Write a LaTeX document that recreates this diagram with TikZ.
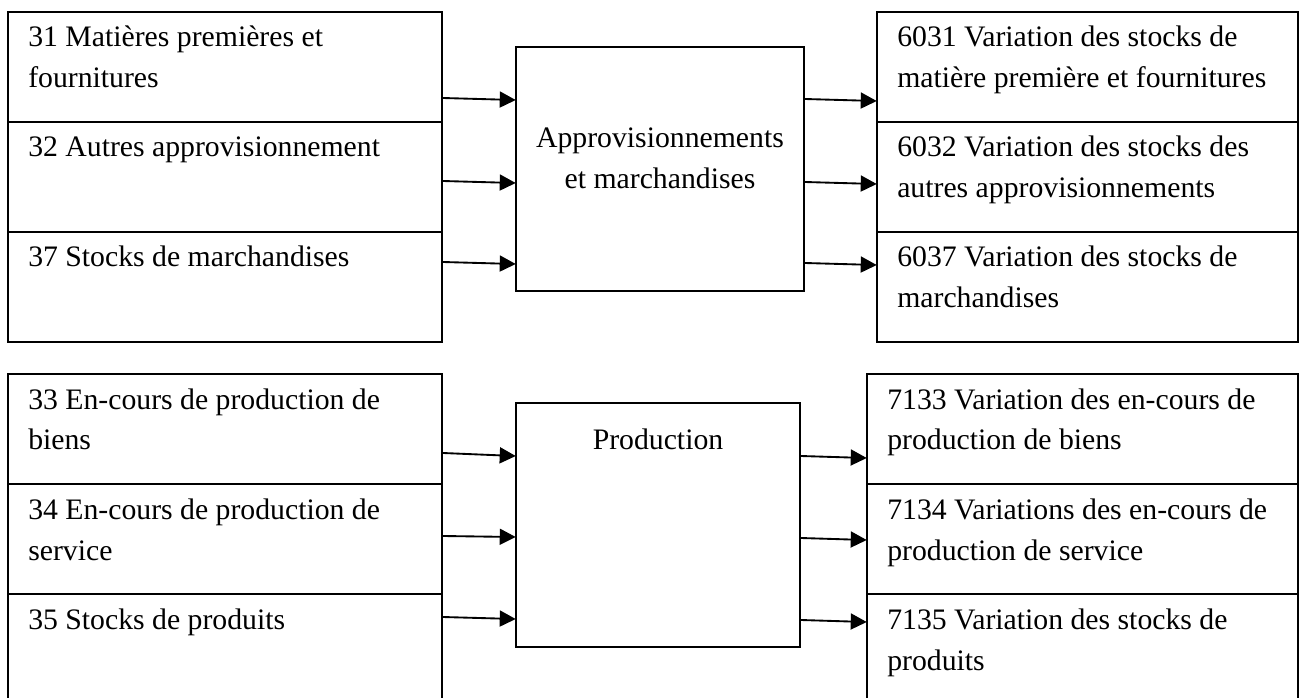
\documentclass[tikz,border=0pt]{standalone}
\usepackage{fontspec}
\setmainfont{Liberation Serif}
\usetikzlibrary{fit,arrows.meta}
\tikzset{
  box/.style={draw=black, line width=1.4pt, inner sep=0pt, fill=none},
  lbl/.style={anchor=base west, inner sep=0pt, align=left, font=\fontsize{22.3pt}{30.75pt}\selectfont},
  ctr/.style={anchor=base, inner sep=0pt, align=center, font=\fontsize{22.3pt}{30.75pt}\selectfont},
  arr/.style={draw=black, line width=1.4pt, -{Triangle[length=12pt,width=12pt]}, shorten >=-0.5pt}
}
\begin{document}
\begin{tikzpicture}[x=0.75pt,y=-0.75pt]
\useasboundingbox (0,0) rectangle (1299,698);
\clip (0,0) rectangle (1299,698);
\fill[white] (0,0) rectangle (1299,698);
% ---- top section ----
\node[box, fit={(8,12)(442,122)}] (L1) {};
\node[box, fit={(8,122)(442,232)}] (L2) {};
\node[box, fit={(8,232)(442,342)}] (L3) {};
\node[box, fit={(516,47)(804,291)}] (M1) {};
\node[box, fit={(877,12)(1298,122)}] (R1) {};
\node[box, fit={(877,122)(1298,232)}] (R2) {};
\node[box, fit={(877,232)(1298,342)}] (R3) {};
\node[lbl] (tL1) at (28,88) {31 Matières premières et\\fournitures};
\node[lbl] (tL2) at (28,157) {32 Autres approvisionnement};
\node[lbl] (tL3) at (28,267) {37 Stocks de marchandises};
\node[ctr] (tM1) at (660,189) {Approvisionnements\\et marchandises};
\node[lbl] (tR1) at (897,88) {6031 Variation des stocks de\\matière première et fournitures};
\node[lbl] (tR2) at (897,198) {6032 Variation des stocks des\\autres approvisionnements};
\node[lbl] (tR3) at (897,308) {6037 Variation des stocks de\\marchandises};
\draw[arr] (L1.east |- 0,98) -- (M1.west |- 0,100);
\draw[arr] (L2.east |- 0,181) -- (M1.west |- 0,183);
\draw[arr] (L3.east |- 0,262) -- (M1.west |- 0,264);
\draw[arr] (M1.east |- 0,99) -- (R1.west |- 0,101);
\draw[arr] (M1.east |- 0,182) -- (R2.west |- 0,184);
\draw[arr] (M1.east |- 0,263) -- (R3.west |- 0,265);
% ---- bottom section ----
\node[box, fit={(8,374)(442,484)}] (L4) {};
\node[box, fit={(8,484)(442,594)}] (L5) {};
\node[box, fit={(8,594)(442,730)}] (L6) {};
\node[box, fit={(516,403)(800,647)}] (M2) {};
\node[box, fit={(867,374)(1298,484)}] (R4) {};
\node[box, fit={(867,484)(1298,594)}] (R5) {};
\node[box, fit={(867,594)(1298,730)}] (R6) {};
\node[lbl] (tL4) at (28,450) {33 En-cours de production de\\biens};
\node[lbl] (tL5) at (28,560) {34 En-cours de production de\\service};
\node[lbl] (tL6) at (28,629) {35 Stocks de produits};
\node[ctr] (tM2) at (658,450) {Production};
\node[lbl] (tR4) at (887,450) {7133 Variation des en-cours de\\production de biens};
\node[lbl] (tR5) at (887,560) {7134 Variations des en-cours de\\production de service};
\node[lbl] (tR6) at (887,670) {7135 Variation des stocks de\\produits};
\draw[arr] (L4.east |- 0,453) -- (M2.west |- 0,456);
\draw[arr] (L5.east |- 0,536) -- (M2.west |- 0,537);
\draw[arr] (L6.east |- 0,617) -- (M2.west |- 0,619);
\draw[arr] (M2.east |- 0,456) -- (R4.west |- 0,458);
\draw[arr] (M2.east |- 0,538) -- (R5.west |- 0,540);
\draw[arr] (M2.east |- 0,620) -- (R6.west |- 0,622);
\end{tikzpicture}
\end{document}
